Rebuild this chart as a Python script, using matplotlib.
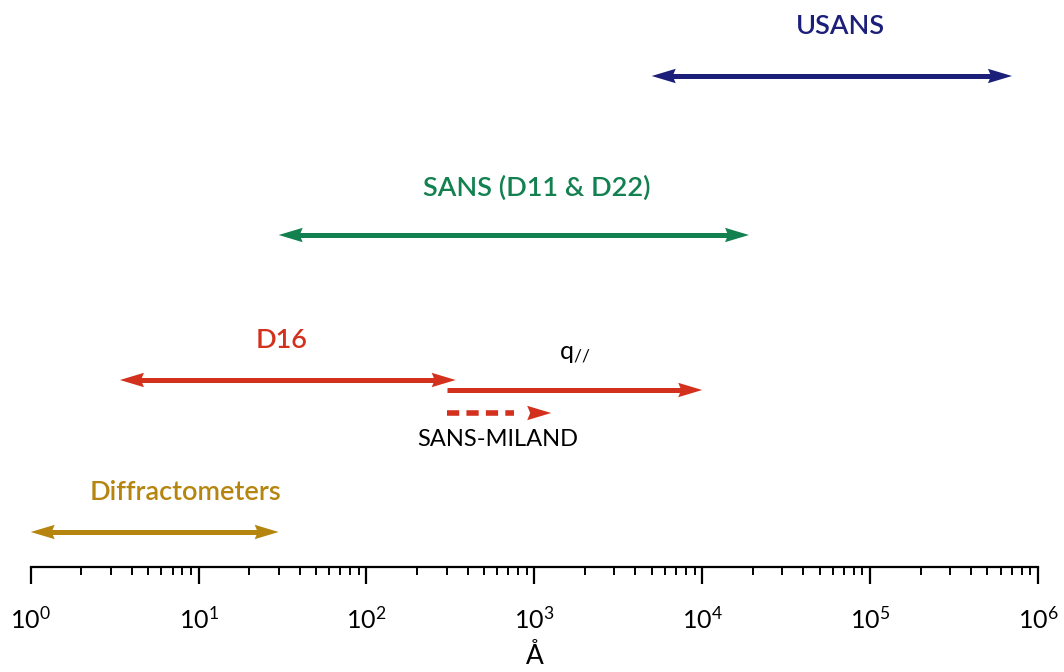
import math
import matplotlib
matplotlib.use('Agg')
import matplotlib.pyplot as plt
import matplotlib.transforms as mtransforms
from matplotlib.patches import Polygon
from matplotlib.ticker import LogLocator, FuncFormatter

plt.rcParams['font.family'] = ['Lato', 'DejaVu Sans']
plt.rcParams['mathtext.fontset'] = 'custom'
plt.rcParams['mathtext.rm'] = 'Lato'
plt.rcParams['mathtext.it'] = 'Lato'
plt.rcParams['mathtext.bf'] = 'Lato:bold'

# Rangos de longitud (Angstrom) de cada técnica
instrumentos = ["USANS", "SANS (D11 & D22)", "D16", "Diffractometers"]
rango_min = [5.0e3, 30, 3.4, 1.0]
rango_max = [7.0e5, 1.9e4, 340, 30]
x_etiqueta = [6.7e4, 1030, 31, 8.4]
colores = ["#1b1f7a", "#12804f", "#d3301d", "#b5850f"]

# Extensiones de D16 (una sola punta)
extra_nombres = ["q$_{//}$", "SANS-MILAND"]
extra_min = [300, 300]
extra_max = [1.0e4, 1260]
x_extra_etiqueta = [1740, 605]

# Alturas de cada fila (px sobre el eje) y de sus etiquetas
y_fila = [491, 332, 187, 35]
y_texto = [541, 379, 227, 74]
y_extra = [177, 154]
y_extra_texto = [212, 127]

fig = plt.figure(figsize=(10.64, 6.72), dpi=100)
ax = fig.add_axes([30.7 / 1064, 105 / 672, (1038 - 30.7) / 1064, 567 / 672])
ax.set_xscale('log')
ax.set_xlim(1, 1e6)
ax.set_ylim(0, 567)

# punta de flecha en pulgadas (1 px = 0.01 in a 100 dpi)
LARGO, ANCHO, MUESCA = 0.24, 0.072, 0.03


def punta(x, y, sentido, color):
    tr = fig.dpi_scale_trans + mtransforms.ScaledTranslation(x, y, ax.transData)
    s = sentido
    verts = [(0, 0), (-s * LARGO, ANCHO), (-s * (LARGO - MUESCA), 0), (-s * LARGO, -ANCHO)]
    ax.add_patch(Polygon(verts, closed=True, transform=tr, facecolor=color,
                         edgecolor='none', zorder=3))


def recortar(x, y, px):
    # desplaza x en px de pantalla
    xd, yd = ax.transData.transform((x, y))
    return ax.transData.inverted().transform((xd + px, yd))[0]


def flecha(x0, x1, y, color, izq=True, der=True, **kw):
    a = recortar(x0, y, 15) if izq else x0
    b = recortar(x1, y, -15)
    ax.plot([a, b], [y, y], color=color, solid_capstyle='butt', **kw)
    if izq:
        punta(x0, y, -1, color)
    if der:
        punta(x1, y, 1, color)


for nombre, x0, x1, xe, c, y, yt in zip(instrumentos, rango_min, rango_max, x_etiqueta,
                                        colores, y_fila, y_texto):
    flecha(x0, x1, y, c, lw=3.6)
    ax.text(xe, yt, nombre, color=c, fontsize=19.5, fontweight='semibold',
            ha='center', va='center')

# q// (continua)
flecha(extra_min[0], extra_max[0], y_extra[0], colores[2], izq=False, lw=3.6)
ax.text(x_extra_etiqueta[0], y_extra_texto[0], extra_nombres[0], color='black',
        fontsize=18, ha='center', va='center')

# SANS-MILAND (discontinua)
fin_dash = recortar(extra_max[1], y_extra[1], -37)
ax.plot([extra_min[1], fin_dash], [y_extra[1], y_extra[1]], color=colores[2], lw=4,
        linestyle=(0, (2.2, 1.3)), solid_capstyle='butt', dash_capstyle='butt')
punta(extra_max[1], y_extra[1], 1, colores[2])
ax.text(x_extra_etiqueta[1], y_extra_texto[1], extra_nombres[1], color='black',
        fontsize=17, ha='center', va='center')

# Eje inferior
for s in ['top', 'right', 'left']:
    ax.spines[s].set_visible(False)
ax.spines['bottom'].set_linewidth(1.6)
ax.set_yticks([])
ax.xaxis.set_major_locator(LogLocator(base=10, numticks=10))
ax.xaxis.set_minor_locator(LogLocator(base=10, subs=range(2, 10), numticks=100))
ax.xaxis.set_major_formatter(FuncFormatter(lambda v, p: r'$10^{%d}$' % round(math.log10(v))))
ax.tick_params(axis='x', which='major', direction='out', length=12, width=1.6,
               labelsize=18, pad=16)
ax.tick_params(axis='x', which='minor', direction='out', length=6, width=1.4)
ax.set_xlabel('Å', fontsize=19, labelpad=8)

fig.savefig('out.png', dpi=100)
